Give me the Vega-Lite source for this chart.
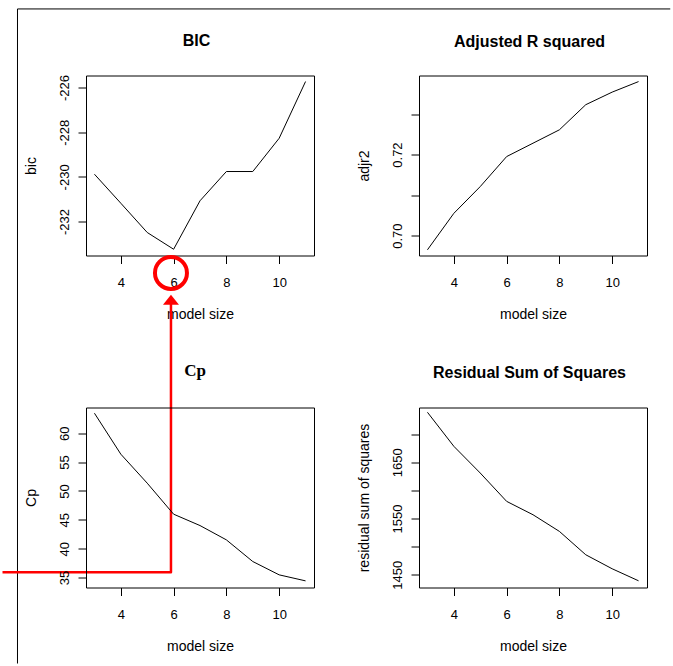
{
  "$schema": "https://vega.github.io/schema/vega-lite/v6.json",
  "background": "white",
  "padding": {"left": 0, "top": 5.5, "right": 0, "bottom": 0},
  "bounds": "flush",
  "columns": 2,
  "spacing": {"row": 152, "column": 105},
  "config": {
    "view": {"stroke": "black", "strokeWidth": 1},
    "axis": {"grid": false, "domain": false, "ticks": true, "tickColor": "black", "tickSize": 8, "tickWidth": 1, "labelFont": "Liberation Sans", "labelFontSize": 13, "labelColor": "black", "labelOverlap": false, "labelFlush": false, "labelBound": false, "titleFont": "Liberation Sans", "titleFontSize": 14, "titleFontWeight": "normal", "titleColor": "black"},
    "axisX": {"labelPadding": 13, "titlePadding": 18, "labelAngle": 0},
    "axisY": {"labelAngle": 270, "labelAlign": "center", "labelBaseline": "bottom", "labelPadding": 7, "titlePadding": 20},
    "title": {"font": "Liberation Sans", "fontSize": 16, "fontWeight": "bold", "color": "black", "anchor": "middle", "frame": "group", "baseline": "alphabetic", "offset": 26, "dx": -3.5}
  },
  "datasets": {
    "models": [
      {"size": 3, "bic": -229.88, "adjr2": 0.6965, "cp": 63.46, "rss": 1739.0},
      {"size": 4, "bic": -231.18, "adjr2": 0.7055, "cp": 56.36, "rss": 1678.5},
      {"size": 5, "bic": -232.49, "adjr2": 0.7121, "cp": 51.34, "rss": 1631.0},
      {"size": 6, "bic": -233.24, "adjr2": 0.7195, "cp": 45.97, "rss": 1580.6},
      {"size": 7, "bic": -231.07, "adjr2": 0.7228, "cp": 44.00, "rss": 1556.8},
      {"size": 8, "bic": -229.76, "adjr2": 0.7261, "cp": 41.52, "rss": 1527.2},
      {"size": 9, "bic": -229.76, "adjr2": 0.7323, "cp": 37.77, "rss": 1485.6},
      {"size": 10, "bic": -228.27, "adjr2": 0.7354, "cp": 35.46, "rss": 1460.7},
      {"size": 11, "bic": -225.73, "adjr2": 0.7380, "cp": 34.42, "rss": 1439.3}
    ],
    "frame": [
      {"step": 1, "size": 0.084, "bic": -251.79},
      {"step": 2, "size": 0.084, "bic": -222.48},
      {"step": 3, "size": 24.82, "bic": -222.48}
    ],
    "pointer": [
      {"step": 1, "size": 5.90, "bic": -235.58},
      {"step": 2, "size": 5.90, "bic": -247.70},
      {"step": 3, "size": -0.484, "bic": -247.70}
    ],
    "circle": [
      {"size": 5.90, "bic": -234.30}
    ],
    "arrow": [
      {"size": 5.90, "bic": -235.50}
    ]
  },
  "concat": [
    {
      "title": {"text": "BIC", "offset": -42.5},
      "width": 228,
      "height": 180,
      "encoding": {
        "x": {"field": "size", "type": "quantitative", "scale": {"domain": [2.68, 11.32], "nice": false, "zero": false}, "axis": {"values": [4, 6, 8, 10], "title": "model size"}},
        "y": {"field": "bic", "type": "quantitative", "scale": {"domain": [-233.52, -225.46], "nice": false, "zero": false}, "axis": {"values": [-232, -230, -228, -226], "title": "bic", "labelExpr": "'' + datum.value"}}
      },
      "layer": [
        {"data": {"name": "models"}, "mark": {"type": "line", "color": "black", "strokeWidth": 1}, "encoding": {}},
        {"data": {"name": "frame"}, "mark": {"type": "line", "color": "black", "strokeWidth": 1}, "encoding": {"order": {"field": "step", "type": "quantitative"}}},
        {"data": {"name": "pointer"}, "mark": {"type": "line", "color": "red", "strokeWidth": 2.5, "strokeJoin": "round"}, "encoding": {"order": {"field": "step", "type": "quantitative"}}},
        {"data": {"name": "circle"}, "mark": {"type": "point", "shape": "circle", "filled": false, "color": "red", "strokeWidth": 4, "size": 1024, "opacity": 1}, "encoding": {}},
        {"data": {"name": "arrow"}, "mark": {"type": "point", "shape": "M0,-0.5L-0.8,0.5L0.8,0.5Z", "filled": true, "color": "red", "size": 400, "opacity": 1}, "encoding": {}}
      ]
    },
    {
      "title": {"text": "Adjusted R squared", "offset": 25.5},
      "width": 228,
      "height": 180,
      "data": {"name": "models"},
      "mark": {"type": "line", "color": "black", "strokeWidth": 1},
      "encoding": {
        "x": {"field": "size", "type": "quantitative", "scale": {"domain": [2.68, 11.32], "nice": false, "zero": false}, "axis": {"values": [4, 6, 8, 10], "title": "model size"}},
        "y": {"field": "adjr2", "type": "quantitative", "scale": {"domain": [0.6951, 0.7395], "nice": false, "zero": false}, "axis": {"values": [0.70, 0.71, 0.72, 0.73], "title": "adjr2", "labelExpr": "(datum.value == 0.70 || datum.value == 0.72) ? format(datum.value, '.2f') : ''"}}
      }
    },
    {
      "title": {"text": "Cp", "font": "Liberation Serif", "fontSize": 17, "offset": 28, "dx": -5},
      "width": 228,
      "height": 180,
      "data": {"name": "models"},
      "mark": {"type": "line", "color": "black", "strokeWidth": 1},
      "encoding": {
        "x": {"field": "size", "type": "quantitative", "scale": {"domain": [2.68, 11.32], "nice": false, "zero": false}, "axis": {"values": [4, 6, 8, 10], "title": "model size"}},
        "y": {"field": "cp", "type": "quantitative", "scale": {"domain": [33.27, 64.45], "nice": false, "zero": false}, "axis": {"values": [35, 40, 45, 50, 55, 60], "title": "Cp"}}
      }
    },
    {
      "title": {"text": "Residual Sum of Squares", "offset": 27},
      "width": 228,
      "height": 180,
      "data": {"name": "models"},
      "mark": {"type": "line", "color": "black", "strokeWidth": 1},
      "encoding": {
        "x": {"field": "size", "type": "quantitative", "scale": {"domain": [2.68, 11.32], "nice": false, "zero": false}, "axis": {"values": [4, 6, 8, 10], "title": "model size"}},
        "y": {"field": "rss", "type": "quantitative", "scale": {"domain": [1427.4, 1747.5], "nice": false, "zero": false}, "axis": {"values": [1450, 1500, 1550, 1600, 1650, 1700], "title": "residual sum of squares", "labelExpr": "(datum.value % 100 == 50) ? ('' + datum.value) : ''"}}
      }
    }
  ]
}
